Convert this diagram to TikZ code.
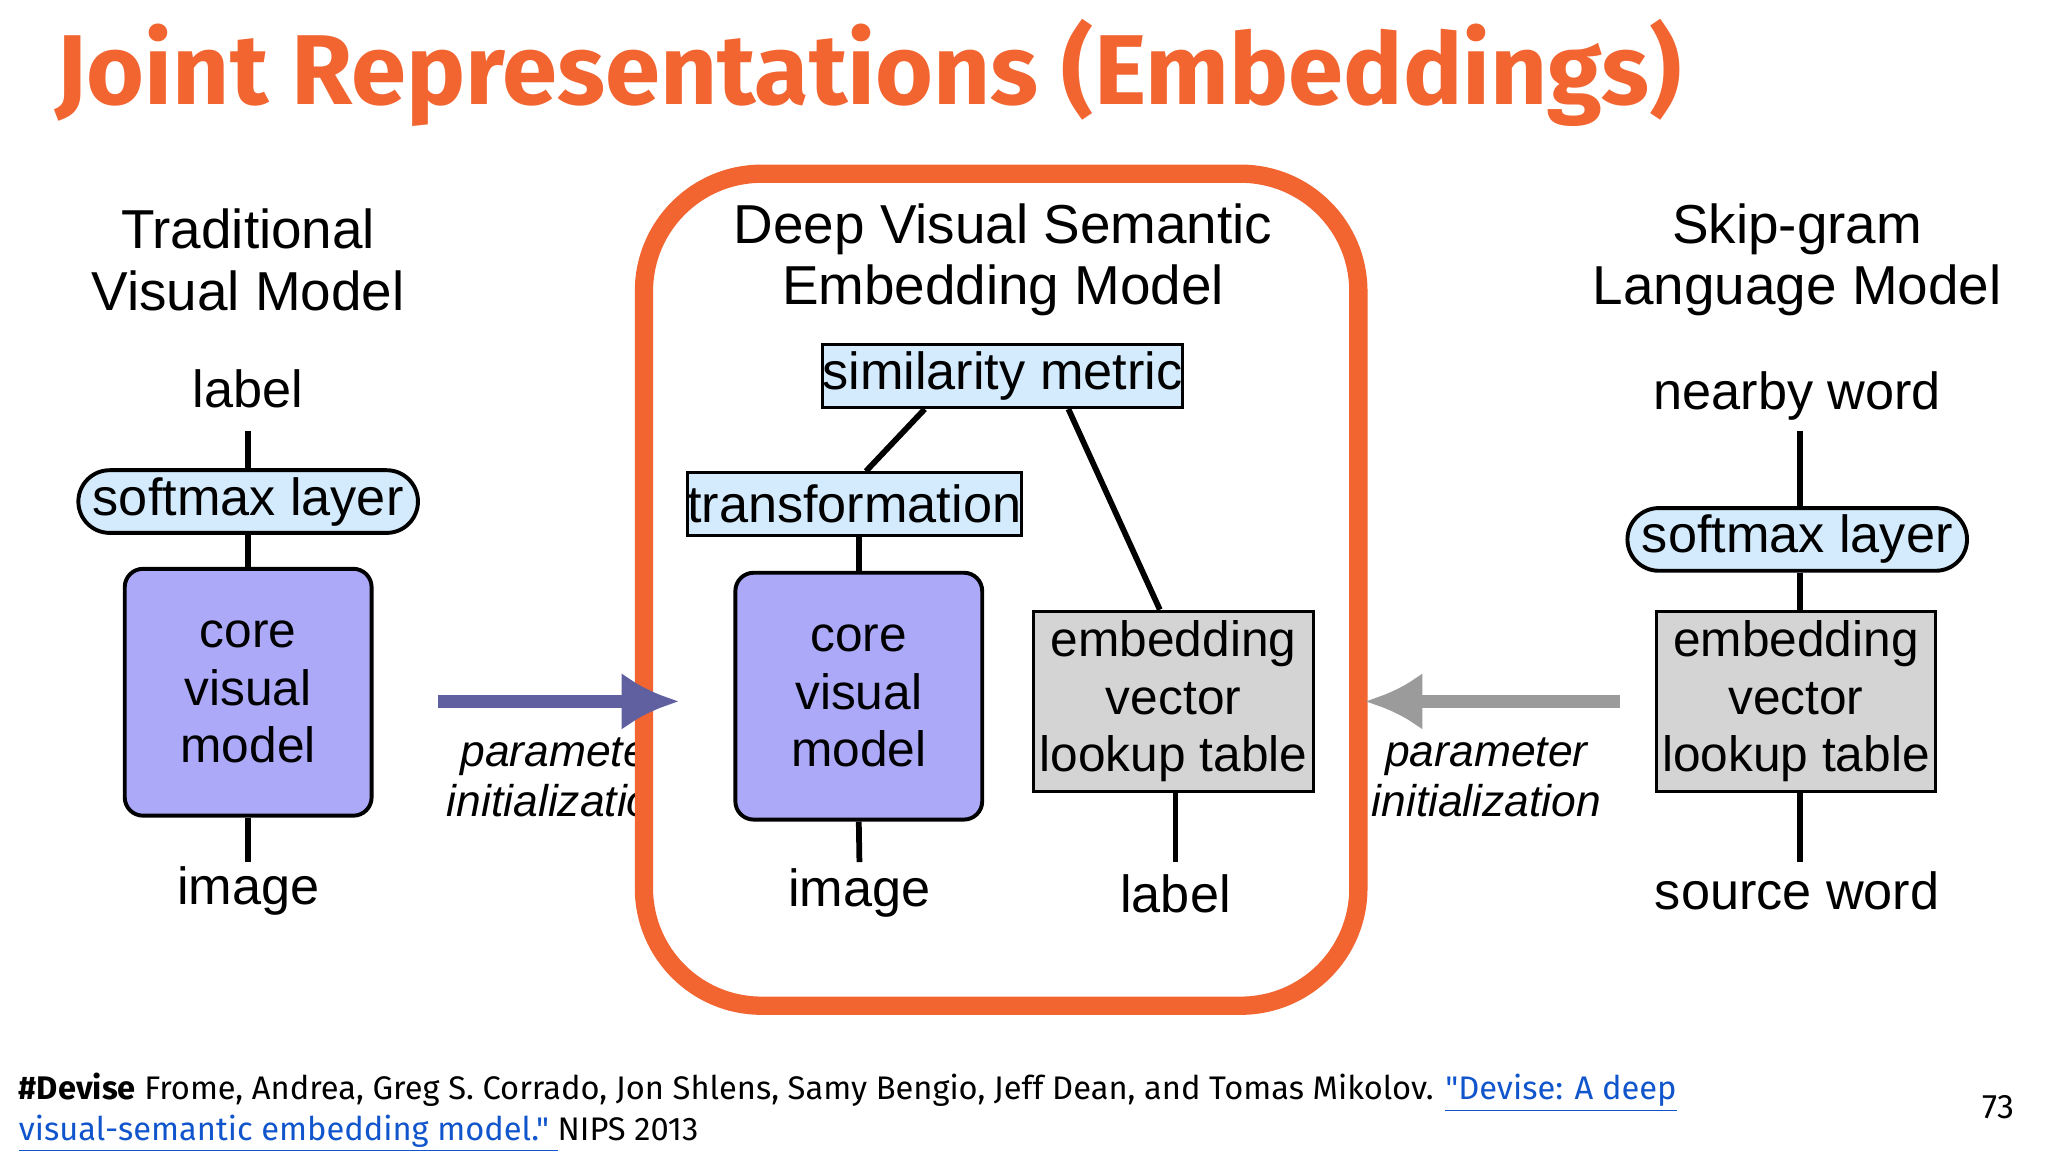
\documentclass[tikz,border=0pt]{standalone}
\usepackage{fontspec}
\setmainfont{Liberation Sans}
\newfontfamily\titlefont{Fira Sans}
\newfontfamily\footfont{Fira Sans}
\usetikzlibrary{arrows.meta}
\definecolor{orng}{HTML}{F26531}
\definecolor{lblue}{HTML}{D3EBFC}
\definecolor{lpurp}{HTML}{ABA9F8}
\definecolor{lgray}{HTML}{D4D4D4}
\definecolor{arrp}{HTML}{6060A0}
\definecolor{arrg}{HTML}{9B9B9B}
\definecolor{linkc}{HTML}{1155CC}
\tikzset{
 txt/.style={font=\fontsize{20}{22}\selectfont, align=center, inner sep=0pt},
 hdr/.style={font=\fontsize{21}{23.5}\selectfont, align=center, inner sep=0pt},
 pill/.style={draw, line width=1.5pt, fill=lblue, rounded corners=12pt, minimum width=130pt, minimum height=24pt, txt},
 bluebox/.style={draw, line width=1.2pt, fill=lblue, minimum height=24pt, txt},
 corebox/.style={draw, line width=1.5pt, fill=lpurp, rounded corners=7pt, minimum width=94.5pt, minimum height=94.5pt, txt, font=\fontsize{19}{22}\selectfont},
 embox/.style={draw, line width=1.2pt, fill=lgray, minimum width=107pt, minimum height=69pt, txt, font=\fontsize{19}{22}\selectfont},
 conn/.style={line width=2.2pt},
 ital/.style={font=\itshape\fontsize{17}{19}\selectfont, align=center, inner sep=0pt}
}
\begin{document}
\begin{tikzpicture}[x=0.5pt,y=-0.5pt]
\useasboundingbox[fill=white] (0,0) rectangle (1568,882);
\node[anchor=base west, text=orng, font=\titlefont\bfseries\fontsize{38}{40}\selectfont, inner sep=0pt] (title) at (42,80) {Joint Representations (Embeddings)};
% left
\node[hdr] (lt) at (190,199) {Traditional\\Visual Model};
\node[txt] (llab) at (190,298) {label};
\node[pill] (lsm) at (190,384) {softmax layer};
\node[corebox] (lcore) at (190,530) {core\\visual\\model};
\node[txt] (limg) at (190,682) {image};
\coordinate (lt1) at (190,330);
\coordinate (lb1) at (190,660);
\draw[conn] (lt1) -- (lsm.north);
\draw[conn] (lsm.south) -- (lcore.north);
\draw[conn] (lcore.south) -- (lb1);
\node[ital] (lpi) at (430,595) {parameter\\initialization};
% orange frame
\draw[orng, line width=7pt, fill=white, rounded corners=45pt] (493,133) rectangle (1040,770);
\coordinate (pa1) at (335,537);
\coordinate (pa2) at (520,537);
\draw[arrp, line width=5pt, -{Latex[length=22pt,width=22pt]}] (pa1) -- (pa2);
% middle
\node[hdr] (mt) at (768,199) {Deep Visual Semantic\\Embedding Model};
\node[bluebox, minimum width=130.5pt] (sim) at (767.5,288) {similarity metric};
\node[bluebox, minimum width=118pt] (tr) at (654,386) {transformation};
\node[corebox] (mcore) at (657.5,533) {core\\visual\\model};
\node[embox] (memb) at (898.5,537) {embedding\\vector\\lookup table};
\node[txt] (mimg) at (658,684) {image};
\node[txt] (mlab) at (900,684) {label};
\coordinate (mb1) at (658,660);
\coordinate (mb2) at (900,660);
\draw[conn] (sim.south -| 708,0) -- (tr.north -| 663,0);
\draw[conn] (sim.south -| 818,0) -- (memb.north -| 888,0);
\draw[conn] (tr.south -| mcore.north) -- (mcore.north);
\draw[conn] (mcore.south) -- (mb1);
\draw[conn] (memb.south -| mb2) -- (mb2);
% right
\node[hdr] (rt) at (1376,199) {Skip-gram\\Language Model};
\node[txt] (rnb) at (1376,303) {nearby word};
\node[pill] (rsm) at (1376,413) {softmax layer};
\node[embox] (remb) at (1375,537) {embedding\\vector\\lookup table};
\node[txt] (rsw) at (1376,682) {source word};
\coordinate (rt1) at (1378,330);
\coordinate (rb1) at (1378,660);
\draw[conn] (rt1) -- (rsm.north -| rt1);
\draw[conn] (rsm.south -| rt1) -- (remb.north -| rt1);
\draw[conn] (remb.south -| rt1) -- (rb1);
\coordinate (ga1) at (1240,537);
\coordinate (ga2) at (1045,537);
\draw[arrg, line width=5pt, -{Latex[length=22pt,width=22pt]}] (ga1) -- (ga2);
\node[ital] (rpi) at (1138,595) {parameter\\initialization};
% footnote
\node[anchor=base west, inner sep=0pt, font=\footfont\fontsize{12.5}{14}\selectfont] (fn1) at (14,842) {\textbf{\#Devise} Frome, Andrea, Greg S. Corrado, Jon Shlens, Samy Bengio, Jeff Dean, and Tomas Mikolov. \textcolor{linkc}{\underline{"Devise: A deep}}};
\node[anchor=base west, inner sep=0pt, font=\footfont\fontsize{12.5}{14}\selectfont] (fn2) at (14,873) {\textcolor{linkc}{\underline{visual-semantic embedding model." }}NIPS 2013};
\node[anchor=base, inner sep=0pt, font=\footfont\fontsize{13}{14}\selectfont] (pg) at (1530,856) {73};
\end{tikzpicture}
\end{document}
